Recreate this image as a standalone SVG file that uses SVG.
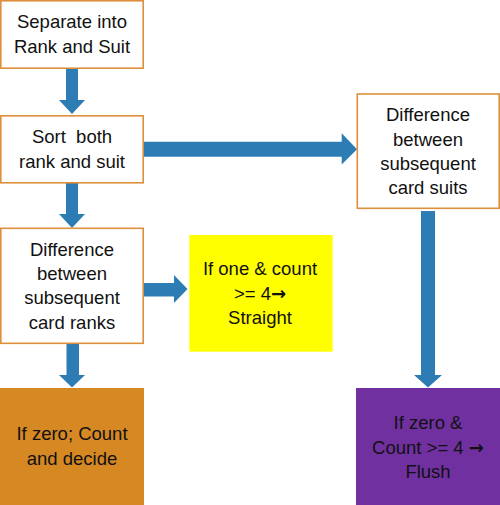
<svg xmlns="http://www.w3.org/2000/svg" width="500" height="505" viewBox="0 0 500 505">
<style>
.box{fill:#FFFFFF;stroke:#DD8F3B;stroke-width:1.6}
.t{font-family:"Liberation Sans",Arial,sans-serif;font-size:18.5px;fill:#111111;text-anchor:middle;white-space:pre}
.ar{font-family:"DejaVu Sans",sans-serif;font-size:18px;font-weight:bold}
.arr{fill:#2E7CB4}
</style>
<rect width="500" height="505" fill="#FFFFFF"/>
<g id="connectors">
<polygon class="arr" points="66,68 78,68 78,100 85,100 72,114 59,100 66,100"/>
<polygon class="arr" points="66,183 78,183 78,214 85,214 72,228 59,214 66,214"/>
<polygon class="arr" points="66.5,343 79,343 79,375 85,375 72,387.5 59,375 66.5,375"/>
<polygon class="arr" points="421,211 435,211 435,375 442,375 428,387.5 414,375 421,375"/>
<polygon class="arr" points="143.5,141.7 341.7,141.7 341.7,133.3 357,149.2 341.7,164.5 341.7,156.7 143.5,156.7"/>
<polygon class="arr" points="143.5,283 174,283 174,275 187.5,289 174,303 174,296.5 143.5,296.5"/>
</g>
<g id="node-separate">
<rect class="box" x="0.8" y="0.8" width="142.4" height="67.4"/>
<text class="t" x="72" y="28">Separate into</text>
<text class="t" x="72" y="53">Rank and Suit</text>
</g>
<g id="node-sort">
<rect class="box" x="0.8" y="115.8" width="142.4" height="67"/>
<text class="t" x="72" y="143">Sort  both</text>
<text class="t" x="72" y="167.5">rank and suit</text>
</g>
<g id="node-diff-ranks">
<rect class="box" x="0.8" y="228.3" width="142.4" height="115"/>
<text class="t" x="72" y="256">Difference</text>
<text class="t" x="72" y="280">between</text>
<text class="t" x="72" y="304">subsequent</text>
<text class="t" x="72" y="329">card ranks</text>
</g>
<g id="node-straight">
<rect x="189.3" y="235" width="143.4" height="116.7" fill="#FFFF00"/>
<text class="t" x="260" y="275">If one &amp; count</text>
<text class="t" x="260" y="300">&gt;= 4<tspan class="ar">→</tspan></text>
<text class="t" x="260" y="323.5">Straight</text>
</g>
<g id="node-diff-suits">
<rect class="box" x="357.3" y="94" width="141.9" height="114.3"/>
<text class="t" x="428" y="121">Difference</text>
<text class="t" x="428" y="145.5">between</text>
<text class="t" x="428" y="170">subsequent</text>
<text class="t" x="428" y="194">card suits</text>
</g>
<g id="node-count">
<rect x="0" y="388" width="144" height="117" fill="#D68823"/>
<text class="t" x="72" y="440">If zero; Count</text>
<text class="t" x="72" y="465">and decide</text>
</g>
<g id="node-flush">
<rect x="356" y="388" width="144" height="117" fill="#7030A0"/>
<text class="t" x="428" y="428.5">If zero &amp;</text>
<text class="t" x="428" y="453.5">Count &gt;= 4 <tspan class="ar">→</tspan></text>
<text class="t" x="428" y="477.5">Flush</text>
</g>
</svg>
